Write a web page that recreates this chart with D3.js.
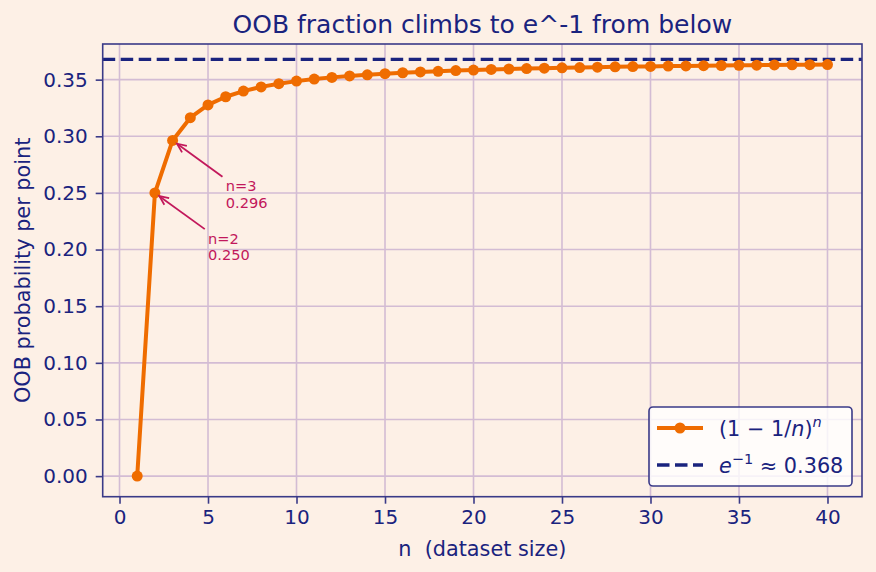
<!DOCTYPE html>
<html>
<head>
<meta charset="utf-8">
<script src="https://cdn.jsdelivr.net/npm/d3@7"></script>
<style>
  html, body { margin: 0; padding: 0; background: #fdf0e6; }
  svg { display: block; font-family: "DejaVu Sans", sans-serif; }
  text { white-space: pre; }
</style>
</head>
<body>
<svg id="chart" width="876" height="572"></svg>
<script>
// ---- data ----
const nValues = [1,2,3,4,5,6,7,8,9,10,11,12,13,14,15,16,17,18,19,20,
                 21,22,23,24,25,26,27,28,29,30,31,32,33,34,35,36,37,38,39,40];
const oobFraction = [0.0000,0.2500,0.2963,0.3164,0.3277,0.3349,0.3399,0.3436,0.3464,0.3487,
                     0.3505,0.3520,0.3533,0.3543,0.3553,0.3561,0.3568,0.3574,0.3580,0.3585,
                     0.3590,0.3594,0.3598,0.3601,0.3604,0.3607,0.3610,0.3613,0.3615,0.3617,
                     0.3620,0.3621,0.3623,0.3625,0.3627,0.3628,0.3630,0.3631,0.3632,0.3633];
const limitValue = 0.3679;
const xTicks = [0,5,10,15,20,25,30,35,40];
const yTicks = [0.00,0.05,0.10,0.15,0.20,0.25,0.30,0.35];
const annotatedN = [2,3];
const annotationLabels = ["n=2", "n=3"];
const annotationValues = ["0.250", "0.296"];
const titleText = "OOB fraction climbs to e^-1 from below";
const xLabel = "n  (dataset size)";
const yLabel = "OOB probability per point";

// ---- styles ----
const C = {
  bg: "#fdf0e6", navy: "#1a237e", frame: "#3a3a88", orange: "#ef6c00",
  grid: "#d3bcd4", annot: "#c2185b"
};
const plot = { left: 102.7, right: 862, top: 44, bottom: 496.7 };

const svg = d3.select("#chart");
svg.append("rect").attr("width", 876).attr("height", 572).attr("fill", C.bg);

const x = d3.scaleLinear().domain([-0.95, 41.95]).range([plot.left, plot.right]);
const y = d3.scaleLinear().domain([-0.01817, 0.38147]).range([plot.bottom, plot.top]);

// grid
const g = svg.append("g");
g.selectAll("line.vx").data(xTicks).join("line")
  .attr("x1", d => x(d)).attr("x2", d => x(d))
  .attr("y1", plot.top).attr("y2", plot.bottom)
  .attr("stroke", C.grid).attr("stroke-width", 1.6);
g.selectAll("line.hy").data(yTicks).join("line")
  .attr("y1", d => y(d)).attr("y2", d => y(d))
  .attr("x1", plot.left).attr("x2", plot.right)
  .attr("stroke", C.grid).attr("stroke-width", 1.6);

// axes
const xAxis = d3.axisBottom(x).tickValues(xTicks).tickFormat(d3.format("d")).tickSize(7).tickPadding(6);
const yAxis = d3.axisLeft(y).tickValues(yTicks).tickFormat(d3.format(".2f")).tickSize(7).tickPadding(8);
const gx = svg.append("g").attr("transform", `translate(0,${plot.bottom})`).call(xAxis);
const gy = svg.append("g").attr("transform", `translate(${plot.left},0)`).call(yAxis);
[gx, gy].forEach(a => {
  a.select(".domain").remove();
  a.selectAll(".tick line").attr("stroke", C.frame).attr("stroke-width", 1.6);
  a.selectAll(".tick text").attr("fill", C.navy).attr("font-size", 20)
    .attr("font-family", "DejaVu Sans");
});

// limit line
svg.append("line")
  .attr("x1", plot.left).attr("x2", plot.right)
  .attr("y1", y(limitValue)).attr("y2", y(limitValue))
  .attr("stroke", C.navy).attr("stroke-width", 3.4)
  .attr("stroke-dasharray", "12.5,5.5");

// series
const pts = nValues.map((n, i) => [n, oobFraction[i]]);
svg.append("path").datum(pts)
  .attr("d", d3.line().x(d => x(d[0])).y(d => y(d[1])))
  .attr("fill", "none").attr("stroke", C.orange).attr("stroke-width", 4)
  .attr("stroke-linejoin", "round");
svg.append("g").selectAll("circle").data(pts).join("circle")
  .attr("cx", d => x(d[0])).attr("cy", d => y(d[1])).attr("r", 5.5)
  .attr("fill", C.orange);

// frame
svg.append("rect")
  .attr("x", plot.left).attr("y", plot.top)
  .attr("width", plot.right - plot.left).attr("height", plot.bottom - plot.top)
  .attr("fill", "none").attr("stroke", C.frame).attr("stroke-width", 1.6);

// annotations
annotatedN.forEach((n, i) => {
  const v = oobFraction[nValues.indexOf(n)];
  const tx = x(n + 3), cy = y(v - 0.05);
  const t = svg.append("text").attr("fill", C.annot).attr("font-size", 14.6);
  t.append("tspan").attr("x", tx).attr("y", cy - 5.8).text(annotationLabels[i]);
  t.append("tspan").attr("x", tx).attr("y", cy + 10.9).text(annotationValues[i]);
  const bb = t.node().getBBox();
  const cx0 = bb.x + bb.width / 2, cy0 = bb.y + bb.height / 2;
  const px = x(n), py = y(v);
  const dx = px - cx0, dy = py - cy0, L = Math.hypot(dx, dy);
  const ux = dx / L, uy = dy / L;
  const tEdge = Math.min((bb.width / 2) / Math.abs(ux), (bb.height / 2) / Math.abs(uy)) + 4;
  const sx = cx0 + ux * tEdge, sy = cy0 + uy * tEdge;
  const ex = px - ux * 5.5, ey = py - uy * 5.5;
  svg.append("line").attr("x1", sx).attr("y1", sy).attr("x2", ex).attr("y2", ey)
    .attr("stroke", C.annot).attr("stroke-width", 1.8);
  const hl = 10, ang = Math.atan2(uy, ux), spread = 0.42;
  const h1 = [ex - hl * Math.cos(ang - spread), ey - hl * Math.sin(ang - spread)];
  const h2 = [ex - hl * Math.cos(ang + spread), ey - hl * Math.sin(ang + spread)];
  svg.append("path").attr("d", `M${h1[0]},${h1[1]}L${ex},${ey}L${h2[0]},${h2[1]}`)
    .attr("fill", "none").attr("stroke", C.annot).attr("stroke-width", 1.8);
});

// title & labels
svg.append("text").attr("x", (plot.left + plot.right) / 2).attr("y", 33)
  .attr("text-anchor", "middle").attr("fill", C.navy).attr("font-size", 25).text(titleText);
svg.append("text").attr("x", (plot.left + plot.right) / 2).attr("y", 556)
  .attr("text-anchor", "middle").attr("fill", C.navy).attr("font-size", 20.8)
  .attr("xml:space", "preserve").text(xLabel);
svg.append("text")
  .attr("transform", `translate(30,${(plot.top + plot.bottom) / 2}) rotate(-90)`)
  .attr("text-anchor", "middle").attr("fill", C.navy).attr("font-size", 20.8).text(yLabel);

// legend
const lg = svg.append("g");
lg.append("rect").attr("x", 649).attr("y", 407).attr("width", 203).attr("height", 79)
  .attr("rx", 4).attr("fill", "#ffffff").attr("fill-opacity", 0.8)
  .attr("stroke", C.frame).attr("stroke-width", 1.6);
const r1 = 428, r2 = 465;
lg.append("line").attr("x1", 657).attr("x2", 703).attr("y1", r1).attr("y2", r1)
  .attr("stroke", C.orange).attr("stroke-width", 4);
lg.append("circle").attr("cx", 680).attr("cy", r1).attr("r", 5.5).attr("fill", C.orange);
lg.append("line").attr("x1", 657).attr("x2", 703).attr("y1", r2).attr("y2", r2)
  .attr("stroke", C.navy).attr("stroke-width", 3.4).attr("stroke-dasharray", "12.5,5.5");
const l1 = lg.append("text").attr("x", 719).attr("y", r1 + 7.5).attr("fill", C.navy).attr("font-size", 20.8);
l1.append("tspan").text("(1 − 1/");
l1.append("tspan").attr("font-style", "italic").text("n");
l1.append("tspan").text(")");
l1.append("tspan").attr("font-style", "italic").attr("font-size", 14.5).attr("dy", -9).text("n");
const l2 = lg.append("text").attr("x", 719).attr("y", r2 + 7.5).attr("fill", C.navy).attr("font-size", 20.8);
l2.append("tspan").attr("font-style", "italic").text("e");
l2.append("tspan").attr("font-size", 14.5).attr("dy", -9).text("−1");
l2.append("tspan").attr("dy", 9).text(" ≈ 0.368");
</script>
</body>
</html>
